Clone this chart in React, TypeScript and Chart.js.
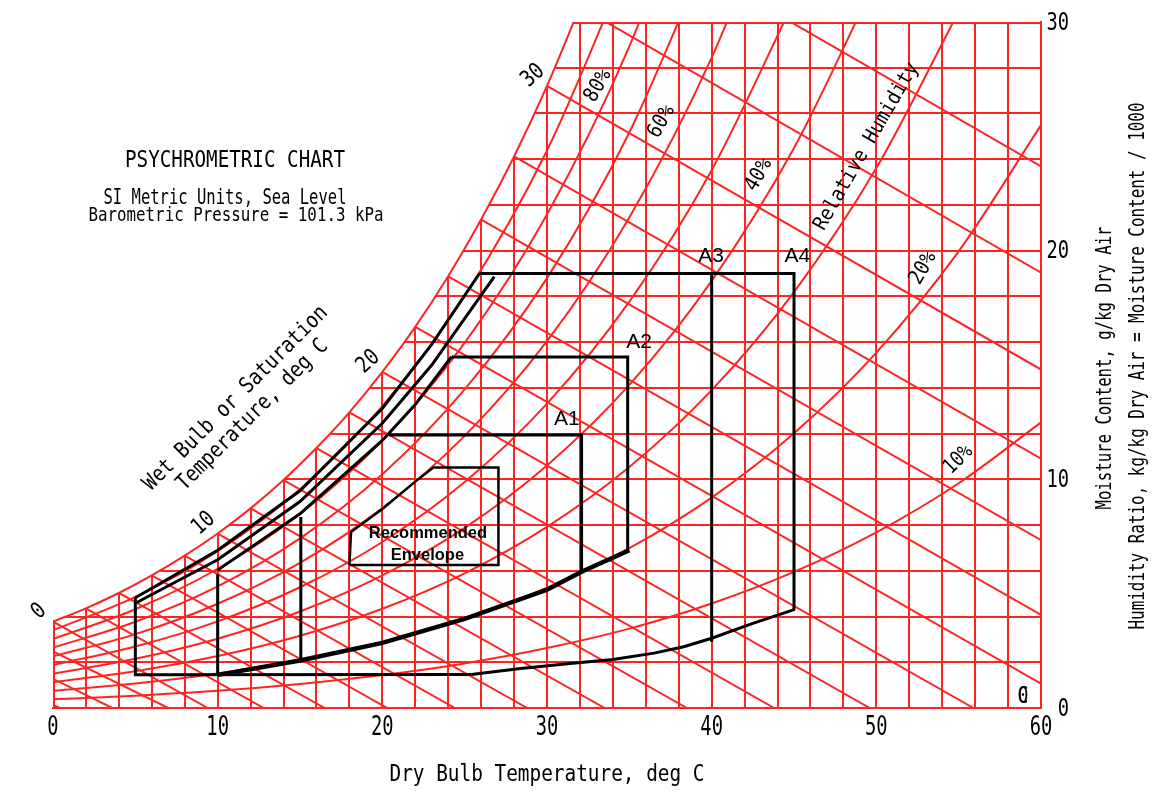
import React, { useEffect, useRef } from 'react';
import { Chart, registerables } from 'chart.js';

Chart.register(...registerables);

const RED = '#ff2424';
const CAD_FONT = "'DejaVu Sans Mono', monospace";
const ARIAL = "'Liberation Sans', Arial, sans-serif";

// saturation line (100% RH), g/kg, every 2 deg C
const satTemps = [0, 2, 4, 6, 8, 10, 12, 14, 16, 18, 20, 22, 24, 26, 28, 30, 32];
const satMoisture = [3.78, 4.36, 5.03, 5.8, 6.66, 7.63, 8.73, 9.97, 11.37, 12.93, 14.7, 16.67, 18.88, 21.36, 24.12, 27.21, 30.66];

// relative humidity lines, g/kg, every 5 deg C
const rhTemps = [0, 5, 10, 15, 20, 25, 30, 35, 40, 45, 50, 55, 60];
const rh10 = [0.38, 0.54, 0.75, 1.05, 1.44, 1.95, 2.62, 3.47, 4.57, 5.95, 7.68, 9.83, 12.49];
const rh20 = [0.75, 1.07, 1.51, 2.1, 2.89, 3.92, 5.26, 6.99, 9.2, 12.01, 15.54, 19.97, 25.49];
const rh30 = [1.13, 1.61, 2.27, 3.16, 4.34, 5.89, 7.92, 10.54, 13.9, 18.19, 23.61, 30.45];
const rh40 = [1.5, 2.15, 3.03, 4.22, 5.8, 7.88, 10.61, 14.13, 18.68, 24.49, 31.88];
const rh50 = [1.88, 2.69, 3.79, 5.28, 7.26, 9.88, 13.31, 17.77, 23.52, 30.91];
const rh60 = [2.26, 3.23, 4.56, 6.35, 8.74, 11.9, 16.04, 21.45, 28.44, 37.47];
const rh70 = [2.64, 3.77, 5.32, 7.42, 10.22, 13.93, 18.8, 25.17, 33.44];
const rh80 = [3.02, 4.32, 6.09, 8.49, 11.7, 15.97, 21.58, 28.93, 38.51];
const rh90 = [3.4, 4.86, 6.86, 9.57, 13.2, 18.02, 24.38, 32.73];

// wet bulb lines: start on saturation, end at zero moisture
const wetBulbTemps = [-6, -4, -2, 0, 2, 4, 6, 8, 10, 12, 14, 16, 18, 20, 22, 24, 26, 28, 30, 32, 34];
const wetBulbSatMoisture = [2.27, 2.7, 3.19, 3.78, 4.36, 5.03, 5.8, 6.66, 7.63, 8.73, 9.97, 11.37, 12.93, 14.7, 16.67, 18.88, 21.36, 24.12, 27.21, 30.66, 34.49];
const wetBulbDryEnd = [0.4, 3.6, 7.0, 9.4, 12.8, 16.5, 20.3, 24.4, 28.8, 33.5, 38.5, 43.8, 49.6, 55.9, 62.6, 69.9, 77.8, 86.4, 95.8, 105.9, 117.0];
const wetBulbLabels = [0, 10, 20, 30];

// axis labels
const dryBulbTickLabels = [0, 10, 20, 30, 40, 50, 60];
const moistureTickLabels = [0, 10, 20, 30];

// ASHRAE envelopes, [dry bulb, g/kg]
const a34Left = [[5, 4.82], [5, 1.45], [25.4, 1.47]];
const a34Dry = [[25.4, 1.47], [28.4, 1.73], [31.4, 1.95], [34, 2.12], [36.5, 2.4], [38.3, 2.68], [40, 3.05], [42.5, 3.7], [45.05, 4.31]];
const a34Top = [[25.9, 19.0], [45, 19.0], [45, 4.31]];
const a3Right = [[40, 19.0], [40, 2.9]];
const a4Humid = [[5, 4.82], [10, 6.9], [15, 9.5], [20, 13.1], [23, 15.9], [25.9, 19.0]];
const a3Humid = [[5, 4.58], [10, 6.48], [15, 9.03], [20, 12.45], [23, 15.0], [26.8, 18.86]];
const a12Humid = [[10, 6.03], [15, 8.49], [20, 11.7], [22, 13.27], [24.2, 15.36]];
const a12Dry = [[10, 1.45], [15, 2.08], [20, 2.85], [25, 3.9], [30, 5.17], [32.1, 5.96], [35, 6.9]];
const a2Left = [[10, 5.85], [10, 1.45]];
const a2Box = [[24.2, 15.35], [34.9, 15.35], [34.9, 6.88]];
const a1Left = [[15.05, 8.35], [15.05, 2.1]];
const a1Box = [[20.4, 11.94], [32.1, 11.94], [32.1, 5.96]];
const recommended = [[18, 6.25], [18.1, 7.7], [20, 8.7], [22, 9.9], [23.1, 10.52], [27.05, 10.52], [27.05, 6.25], [18, 6.25]];

const toPoints = (xs: number[], ys: number[]) => ys.map((y, i) => ({ x: xs[i], y }));
const pairs = (arr: number[][]) => arr.map(([x, y]) => ({ x, y }));

// tall narrow plotter-style lettering
function cadText(
  ctx: CanvasRenderingContext2D,
  text: string,
  x: number,
  y: number,
  cap: number,
  width: number,
  angle = 0,
  align: CanvasTextAlign = 'center'
) {
  const size = cap / 0.73;
  ctx.save();
  ctx.font = `${size.toFixed(1)}px ${CAD_FONT}`;
  const natural = ctx.measureText(text).width;
  ctx.translate(x, y);
  ctx.rotate((angle * Math.PI) / 180);
  ctx.scale(width / natural, 1);
  ctx.textAlign = align;
  ctx.textBaseline = 'middle';
  ctx.fillStyle = '#000';
  ctx.fillText(text, 0, 0);
  ctx.restore();
}

function plainText(ctx: CanvasRenderingContext2D, text: string, x: number, y: number, font: string) {
  ctx.save();
  ctx.font = font;
  ctx.textAlign = 'center';
  ctx.textBaseline = 'middle';
  ctx.fillStyle = '#000';
  ctx.fillText(text, x, y);
  ctx.restore();
}

const labelsPlugin = {
  id: 'psychroLabels',
  afterDatasetsDraw(chart: any) {
    const { ctx, chartArea } = chart;
    const px = (t: number) => chart.scales.x.getPixelForValue(t);
    const py = (w: number) => chart.scales.y.getPixelForValue(w);

    // tick labels and axis titles
    dryBulbTickLabels.forEach((v) => {
      const s = String(v);
      cadText(ctx, s, px(v), chartArea.bottom + 20, 19, 11.3 * s.length);
    });
    moistureTickLabels.forEach((v) => {
      const s = String(v);
      cadText(ctx, s, chartArea.right + 28, py(v) + 1, 18.5, 11.3 * s.length, 0, 'right');
    });
    cadText(ctx, 'Dry Bulb Temperature, deg C', (chartArea.left + chartArea.right) / 2, 775, 17, 315);
    cadText(ctx, 'Moisture Content, g/kg Dry Air', 1106, 368, 15, 283, -90);
    cadText(ctx, 'Humidity Ratio, kg/kg Dry Air = Moisture Content / 1000', 1139, 366, 15, 527, -90);

    cadText(ctx, 'PSYCHROMETRIC CHART', 235, 161, 16.5, 220);
    cadText(ctx, 'SI Metric Units, Sea Level', 225, 199, 15, 243);
    cadText(ctx, 'Barometric Pressure = 101.3 kPa', 236, 216, 14.5, 295);

    cadText(ctx, 'Wet Bulb or Saturation', px(11.1), py(13.54), 16, 251, -45);
    cadText(ctx, 'Temperature, deg C', px(12.12), py(12.81), 16, 204, -45);

    wetBulbLabels.forEach((t) => {
      const i = satTemps.indexOf(t);
      const txt = String(t);
      cadText(ctx, txt, px(t) - 14, py(satMoisture[i]) - 10, 16.5, 11.5 * txt.length, -42);
    });

    cadText(ctx, 'Relative Humidity', px(49.41), py(24.55), 15, 190, -60);
    cadText(ctx, '80%', px(33.11), py(27.21), 15.5, 34, -60);
    cadText(ctx, '60%', px(36.96), py(25.64), 15.5, 34, -60);
    cadText(ctx, '40%', px(42.87), py(23.31), 15.5, 34, -60);
    cadText(ctx, '20%', px(52.85), py(19.23), 15.5, 34, -60);
    cadText(ctx, '10%', px(54.98), py(10.85), 15.5, 32, -45);
    cadText(ctx, '0', px(58.91), py(0.5), 17, 11);
    cadText(ctx, 'C', px(58.91), py(0.5), 17, 11);

    const envFont = `21px ${ARIAL}`;
    plainText(ctx, 'A1', px(31.2), py(12.64), envFont);
    plainText(ctx, 'A2', px(35.59), py(15.98), envFont);
    plainText(ctx, 'A3', px(39.96), py(19.77), envFont);
    plainText(ctx, 'A4', px(45.21), py(19.77), envFont);
    const recFont = `bold 16.5px ${ARIAL}`;
    plainText(ctx, 'Recommended', px(22.77), py(7.65), recFont);
    plainText(ctx, 'Envelope', px(22.74), py(6.69), recFont);
  },
};

export default function App() {
  const ref = useRef<HTMLCanvasElement>(null);

  useEffect(() => {
    document.body.style.margin = '0';
    if (!ref.current) return;

    const red = (data: any[], extra: any = {}) => ({
      data,
      borderColor: RED,
      borderWidth: 2,
      pointRadius: 0,
      fill: false,
      order: 1,
      ...extra,
    });
    const black = (arr: number[][], width = 3) => ({
      data: pairs(arr),
      borderColor: '#000',
      borderWidth: width,
      pointRadius: 0,
      fill: false,
      tension: 0,
      order: 0,
    });

    const rhSeries = [rh10, rh20, rh30, rh40, rh50, rh60, rh70, rh80, rh90];

    const datasets: any[] = [
      // left and top edges of the grid, hidden above saturation by the white fill
      red([{ x: 0, y: 0 }, { x: 0, y: 30 }], { borderWidth: 4, clip: 0, order: 3 }),
      red([{ x: 0, y: 30 }, { x: 60, y: 30 }], { borderWidth: 4, clip: 0, order: 3 }),
      red(toPoints(satTemps, satMoisture), {
        fill: 'end',
        backgroundColor: '#ffffff',
        cubicInterpolationMode: 'monotone',
        order: 2,
      }),
      ...rhSeries.map((s) => red(toPoints(rhTemps, s), { cubicInterpolationMode: 'monotone' })),
      ...wetBulbTemps.map((t, i) =>
        red([
          { x: t, y: wetBulbSatMoisture[i] },
          { x: wetBulbDryEnd[i], y: 0 },
        ])
      ),
      black(a34Left),
      black(a34Dry),
      black(a34Top),
      black(a3Right),
      black(a4Humid),
      black(a3Humid),
      black(a12Humid),
      black(a12Dry, 4.5),
      black(a2Left),
      black(a2Box),
      black(a1Left),
      black(a1Box),
      black(recommended, 2.5),
    ];

    const gridColor = (hidden: number) => (c: any) =>
      c.tick && c.tick.value === hidden ? 'rgba(0,0,0,0)' : RED;

    const chart = new Chart(ref.current, {
      type: 'line',
      data: { datasets },
      options: {
        animation: false,
        responsive: true,
        maintainAspectRatio: false,
        events: [],
        layout: { padding: { left: 53, top: 22, right: 0, bottom: 0 } },
        plugins: {
          legend: { display: false },
          tooltip: { enabled: false },
        },
        scales: {
          x: {
            type: 'linear',
            min: 0,
            max: 60,
            afterFit: (s: any) => {
              s.height = 83;
            },
            grid: { color: gridColor(0), lineWidth: 2, drawTicks: false },
            border: { color: RED, width: 2 },
            ticks: { stepSize: 2, autoSkip: false, display: false },
          },
          y: {
            type: 'linear',
            position: 'right',
            min: 0,
            max: 30,
            afterFit: (s: any) => {
              s.width = 117;
            },
            grid: { color: gridColor(30), lineWidth: 2, drawTicks: false },
            border: { color: RED, width: 2 },
            ticks: { stepSize: 2, autoSkip: false, display: false },
          },
        },
      },
      plugins: [labelsPlugin],
    } as any);

    return () => {
      chart.destroy();
    };
  }, []);

  return (
    <div style={{ position: 'fixed', left: 0, top: 0, width: 1158, height: 791, background: '#fff' }}>
      <canvas ref={ref}></canvas>
    </div>
  );
}
